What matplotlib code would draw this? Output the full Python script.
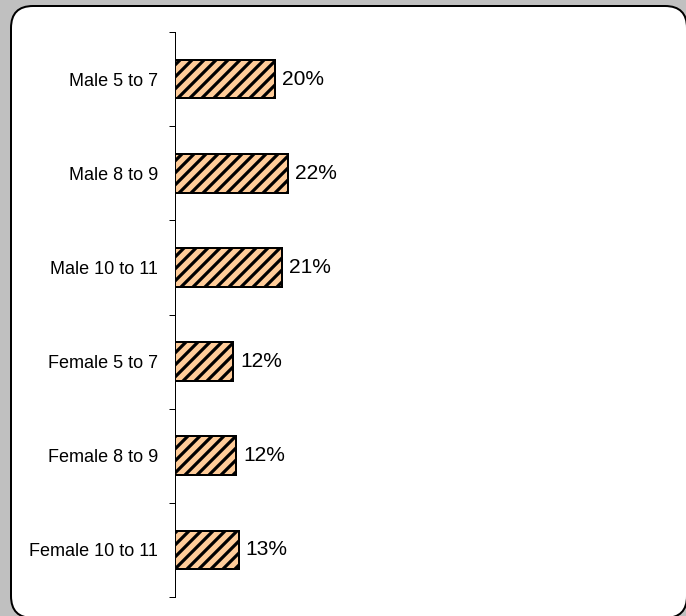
import matplotlib
matplotlib.use("Agg")
import matplotlib.pyplot as plt
from matplotlib.patches import FancyBboxPatch
from matplotlib.transforms import IdentityTransform

# data
categories = ["Male 5 to 7", "Male 8 to 9", "Male 10 to 11",
              "Female 5 to 7", "Female 8 to 9", "Female 10 to 11"]
values = [20.0, 22.5, 21.4, 11.6, 12.2, 12.7]
labels = ["20%", "22%", "21%", "12%", "12%", "13%"]

plt.rcParams['font.family'] = ['Liberation Sans', 'DejaVu Sans']
plt.rcParams['hatch.linewidth'] = 3.2

W, H, DPI = 686, 616, 72
fig = plt.figure(figsize=(W / DPI, H / DPI), dpi=DPI, facecolor='#c0c0c0')

# white rounded panel behind the chart
panel = FancyBboxPatch((11, H - 618), 676, 612,
                       boxstyle="round,pad=0,rounding_size=22",
                       transform=IdentityTransform(), facecolor='white',
                       edgecolor='black', linewidth=2, zorder=-10)
fig.patches.append(panel)

ax = fig.add_axes([175 / W, 1 - 597 / H, 500 / W, 565 / H])
ax.set_facecolor('none')

pos = list(range(len(categories)))
bars = ax.barh(pos, values, height=0.41, color='#ffcc99', edgecolor='black',
               linewidth=2, hatch='//')
for b, lab in zip(bars, labels):
    ax.text(b.get_width() + 1.4, b.get_y() + b.get_height() / 2, lab,
            va='center', ha='left', fontsize=21)

ax.set_xlim(0, 100)
ax.set_ylim(5.5, -0.5)
ax.set_yticks(pos)
ax.set_yticklabels(categories, fontsize=18)
ax.set_yticks([i - 0.5 for i in range(len(categories) + 1)], minor=True)
ax.tick_params(axis='y', which='major', length=0, pad=17)
ax.tick_params(axis='y', which='minor', length=6, width=1, direction='out')
ax.set_xticks([])
for s in ['top', 'right', 'bottom']:
    ax.spines[s].set_visible(False)
ax.spines['left'].set_linewidth(1)

fig.savefig("out.png", dpi=DPI, facecolor=fig.get_facecolor())
